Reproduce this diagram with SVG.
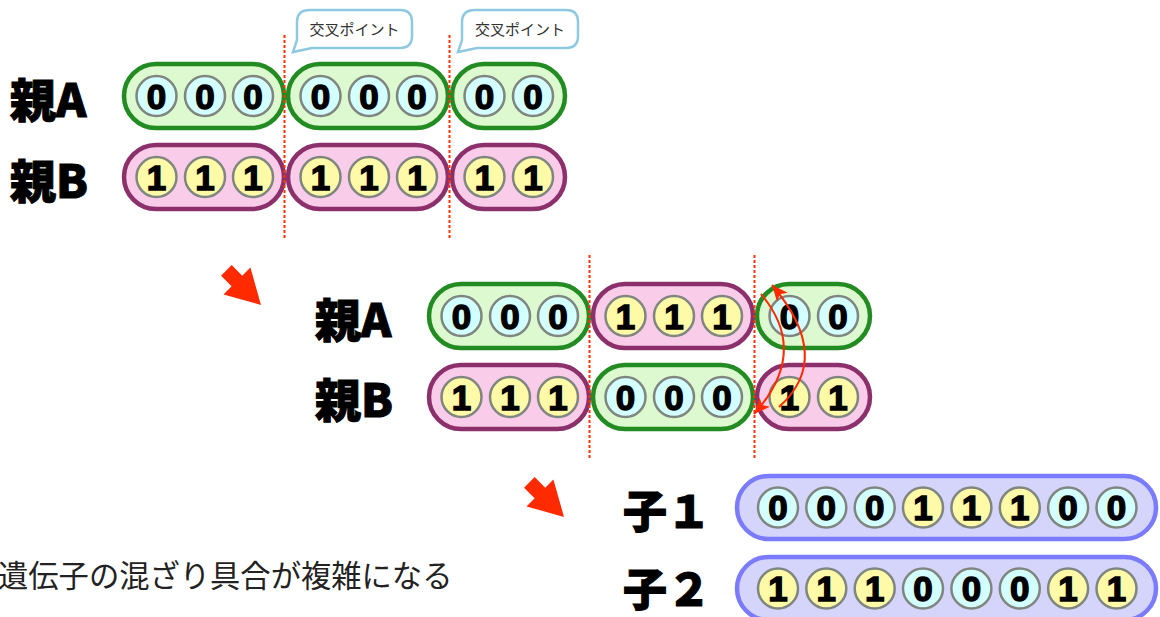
<svg xmlns="http://www.w3.org/2000/svg" width="1160" height="617" viewBox="0 0 1160 617">
<defs>
<style>
.cg{fill:#ddf9cf;stroke:#228b22;stroke-width:4.5}
.cp{fill:#f9cce9;stroke:#8b306b;stroke-width:4.5}
.cb{fill:#d5d5fb;stroke:#7b7bff;stroke-width:4.5}
.z{fill:#d4ffff;stroke:#7f867f;stroke-width:2.5}
.o{fill:#fffaa8;stroke:#7f867f;stroke-width:2.5}
.d{font-family:"Liberation Sans",Arial,sans-serif;font-weight:bold;font-size:35px;text-anchor:middle;fill:#000;stroke:#000;stroke-width:1.4}
.lbl{font-family:"Noto Sans CJK JP","Noto Sans",sans-serif;font-weight:900;font-size:46px;fill:#000;stroke:#000;stroke-width:1}
.kid{font-family:"Noto Sans CJK JP","Noto Sans",sans-serif;font-weight:900;font-size:44px;fill:#000;stroke:#000;stroke-width:1}
.dot{stroke:#ff3300;stroke-width:2;stroke-dasharray:3 2;fill:none}
.bub{fill:#fff;stroke:#8fc9e0;stroke-width:2.5}
.bt{font-family:"Noto Sans CJK JP","Noto Sans",sans-serif;font-size:15px;fill:#333}
.cur{fill:none;stroke:#ff2a00;stroke-width:2}
.big{fill:#ff2a00}
</style>
<marker id="ah" markerUnits="userSpaceOnUse" markerWidth="18" markerHeight="14" refX="16" refY="7" orient="auto">
<path d="M0,0 L16,7 L0,14 L4,7 z" fill="#ff2a00"/>
</marker>
</defs>
<rect width="1160" height="617" fill="#fff"/>

<!-- top section -->
<g id="bubble1">
<path class="bub" d="M310,10 H400 Q412,10 412,22 V36 Q412,48 400,48 H312 L293,52 L297,40 V22 Q297,10 310,10 Z"/>
<text class="bt" x="354.5" y="35" text-anchor="middle">交叉ポイント</text>
</g>
<g id="bubble2">
<path class="bub" d="M475,10 H566 Q578,10 578,22 V36 Q578,48 566,48 H477 L458,52 L462,40 V22 Q462,10 475,10 Z"/>
<text class="bt" x="520" y="35" text-anchor="middle">交叉ポイント</text>
</g>
<g id="labelTopA"><text class="lbl" x="10" y="117">親A</text></g>
<g id="labelTopB"><text class="lbl" x="10" y="198">親B</text></g>

<g id="topA1">
<rect class="cg" x="124" y="64" width="160" height="64" rx="32"/>
<circle class="z" cx="156.5" cy="96" r="20"/><circle class="z" cx="205" cy="96" r="20"/><circle class="z" cx="253" cy="96" r="20"/>
<text class="d" x="156.5" y="108.5">0</text><text class="d" x="205" y="108.5">0</text><text class="d" x="253" y="108.5">0</text>
</g>
<g id="topA2">
<rect class="cg" x="288" y="64" width="160" height="64" rx="32"/>
<circle class="z" cx="320.5" cy="96" r="20"/><circle class="z" cx="369" cy="96" r="20"/><circle class="z" cx="417" cy="96" r="20"/>
<text class="d" x="320.5" y="108.5">0</text><text class="d" x="369" y="108.5">0</text><text class="d" x="417" y="108.5">0</text>
</g>
<g id="topA3">
<rect class="cg" x="452" y="64" width="113" height="64" rx="32"/>
<circle class="z" cx="484.5" cy="96" r="20"/><circle class="z" cx="533" cy="96" r="20"/>
<text class="d" x="484.5" y="108.5">0</text><text class="d" x="533" y="108.5">0</text>
</g>
<g id="topB1">
<rect class="cp" x="124" y="145" width="160" height="64" rx="32"/>
<circle class="o" cx="156.5" cy="177" r="20"/><circle class="o" cx="205" cy="177" r="20"/><circle class="o" cx="253" cy="177" r="20"/>
<text class="d" x="156.5" y="189.5">1</text><text class="d" x="205" y="189.5">1</text><text class="d" x="253" y="189.5">1</text>
</g>
<g id="topB2">
<rect class="cp" x="288" y="145" width="160" height="64" rx="32"/>
<circle class="o" cx="320.5" cy="177" r="20"/><circle class="o" cx="369" cy="177" r="20"/><circle class="o" cx="417" cy="177" r="20"/>
<text class="d" x="320.5" y="189.5">1</text><text class="d" x="369" y="189.5">1</text><text class="d" x="417" y="189.5">1</text>
</g>
<g id="topB3">
<rect class="cp" x="452" y="145" width="113" height="64" rx="32"/>
<circle class="o" cx="484.5" cy="177" r="20"/><circle class="o" cx="533" cy="177" r="20"/>
<text class="d" x="484.5" y="189.5">1</text><text class="d" x="533" y="189.5">1</text>
</g>

<!-- middle section -->
<g id="labelMidA"><text class="lbl" x="315" y="337">親A</text></g>
<g id="labelMidB"><text class="lbl" x="315" y="417">親B</text></g>
<g id="midA1">
<rect class="cg" x="429" y="284" width="160" height="64" rx="32"/>
<circle class="z" cx="461.5" cy="316" r="20"/><circle class="z" cx="510" cy="316" r="20"/><circle class="z" cx="558" cy="316" r="20"/>
<text class="d" x="461.5" y="328.5">0</text><text class="d" x="510" y="328.5">0</text><text class="d" x="558" y="328.5">0</text>
</g>
<g id="midA2">
<rect class="cp" x="593" y="284" width="160" height="64" rx="32"/>
<circle class="o" cx="625.5" cy="316" r="20"/><circle class="o" cx="674" cy="316" r="20"/><circle class="o" cx="722" cy="316" r="20"/>
<text class="d" x="625.5" y="328.5">1</text><text class="d" x="674" y="328.5">1</text><text class="d" x="722" y="328.5">1</text>
</g>
<g id="midA3">
<rect class="cg" x="757" y="284" width="113" height="64" rx="32"/>
<circle class="z" cx="789.5" cy="316" r="20"/><circle class="z" cx="838" cy="316" r="20"/>
<text class="d" x="789.5" y="328.5">0</text><text class="d" x="838" y="328.5">0</text>
</g>
<g id="midB1">
<rect class="cp" x="429" y="365" width="160" height="64" rx="32"/>
<circle class="o" cx="461.5" cy="397" r="20"/><circle class="o" cx="510" cy="397" r="20"/><circle class="o" cx="558" cy="397" r="20"/>
<text class="d" x="461.5" y="409.5">1</text><text class="d" x="510" y="409.5">1</text><text class="d" x="558" y="409.5">1</text>
</g>
<g id="midB2">
<rect class="cg" x="593" y="365" width="160" height="64" rx="32"/>
<circle class="z" cx="625.5" cy="397" r="20"/><circle class="z" cx="674" cy="397" r="20"/><circle class="z" cx="722" cy="397" r="20"/>
<text class="d" x="625.5" y="409.5">0</text><text class="d" x="674" y="409.5">0</text><text class="d" x="722" y="409.5">0</text>
</g>
<g id="midB3">
<rect class="cp" x="757" y="365" width="113" height="64" rx="32"/>
<circle class="o" cx="789.5" cy="397" r="20"/><circle class="o" cx="838" cy="397" r="20"/>
<text class="d" x="789.5" y="409.5">1</text><text class="d" x="838" y="409.5">1</text>
</g>

<!-- bottom section -->
<g id="labelKid1"><text class="kid" x="623" y="528">子１</text></g>
<g id="labelKid2"><text class="kid" x="623" y="606">子２</text></g>
<g id="kid1">
<rect class="cb" x="737" y="476" width="419" height="63" rx="31.5"/>
<circle class="z" cx="778" cy="507.5" r="20"/><circle class="z" cx="826.3" cy="507.5" r="20"/><circle class="z" cx="874.7" cy="507.5" r="20"/><circle class="o" cx="923" cy="507.5" r="20"/><circle class="o" cx="971.4" cy="507.5" r="20"/><circle class="o" cx="1019.8" cy="507.5" r="20"/><circle class="z" cx="1068.1" cy="507.5" r="20"/><circle class="z" cx="1116.5" cy="507.5" r="20"/>
<text class="d" x="778" y="520">0</text><text class="d" x="826.3" y="520">0</text><text class="d" x="874.7" y="520">0</text><text class="d" x="923" y="520">1</text><text class="d" x="971.4" y="520">1</text><text class="d" x="1019.8" y="520">1</text><text class="d" x="1068.1" y="520">0</text><text class="d" x="1116.5" y="520">0</text>
</g>
<g id="kid2">
<rect class="cb" x="737" y="557" width="419" height="63" rx="31.5"/>
<circle class="o" cx="778" cy="588.5" r="20"/><circle class="o" cx="826.3" cy="588.5" r="20"/><circle class="o" cx="874.7" cy="588.5" r="20"/><circle class="z" cx="923" cy="588.5" r="20"/><circle class="z" cx="971.4" cy="588.5" r="20"/><circle class="z" cx="1019.8" cy="588.5" r="20"/><circle class="o" cx="1068.1" cy="588.5" r="20"/><circle class="o" cx="1116.5" cy="588.5" r="20"/>
<text class="d" x="778" y="601">1</text><text class="d" x="826.3" y="601">1</text><text class="d" x="874.7" y="601">1</text><text class="d" x="923" y="601">0</text><text class="d" x="971.4" y="601">0</text><text class="d" x="1019.8" y="601">0</text><text class="d" x="1068.1" y="601">1</text><text class="d" x="1116.5" y="601">1</text>
</g>
<g id="caption"><text x="-2" y="587" font-family="'Noto Sans CJK JP','Noto Sans',sans-serif" font-size="30.3" fill="#222">遺伝子の混ざり具合が複雑になる</text></g>

<!-- connectors -->
<g id="connectors">
<line class="dot" x1="284.5" y1="35" x2="284.5" y2="238"/>
<line class="dot" x1="449.5" y1="35" x2="449.5" y2="238"/>
<line class="dot" x1="589.5" y1="255" x2="589.5" y2="458"/>
<line class="dot" x1="754.5" y1="255" x2="754.5" y2="458"/>
<path class="cur" d="M779,407 Q834,358 772,285" marker-end="url(#ah)"/>
<path class="cur" d="M761,294 Q810,352 754,414" marker-end="url(#ah)"/>
<polygon class="big" transform="translate(261,305) rotate(45)" points="0,0 -34,-19 -34,-7.5 -49,-7.5 -49,7.5 -34,7.5 -34,19"/>
<polygon class="big" transform="translate(564,517) rotate(45)" points="0,0 -34,-19 -34,-7.5 -49,-7.5 -49,7.5 -34,7.5 -34,19"/>
</g>
</svg>
